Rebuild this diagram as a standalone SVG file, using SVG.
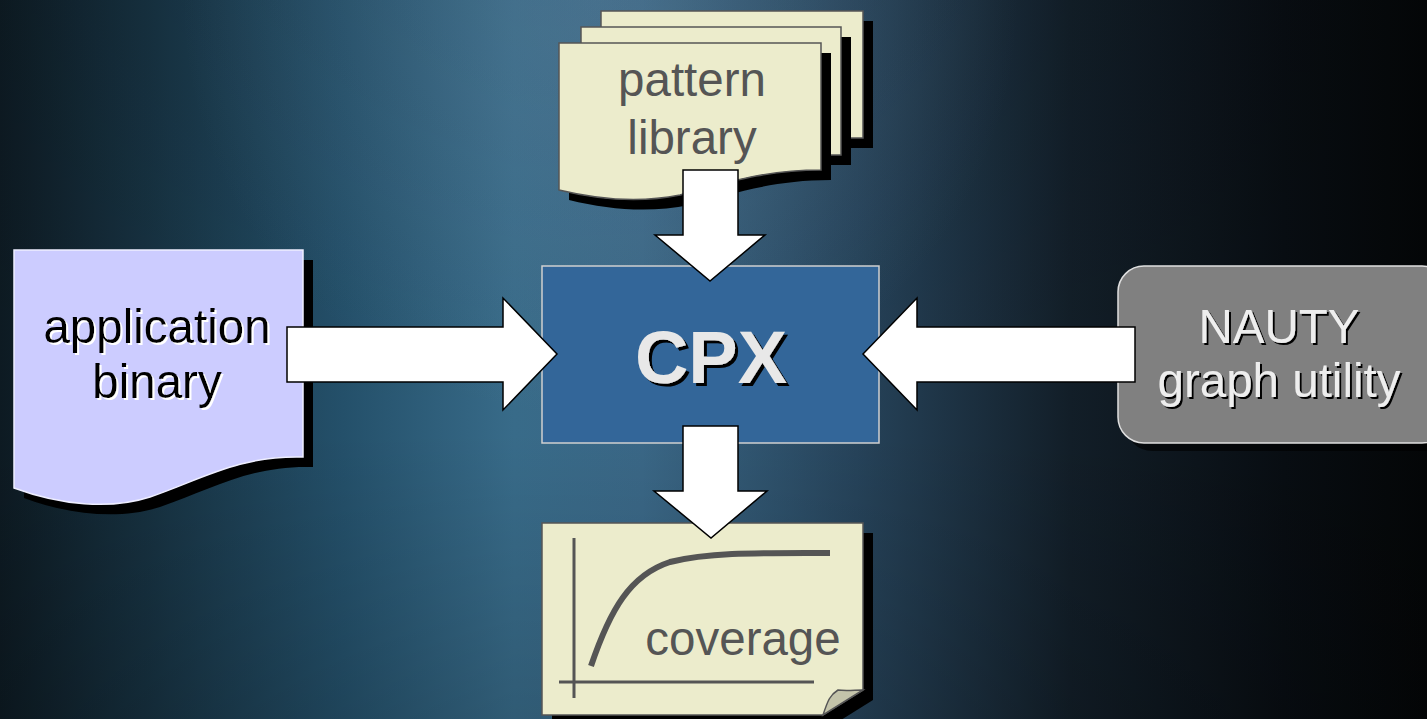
<svg xmlns="http://www.w3.org/2000/svg" width="1427" height="719" viewBox="0 0 1427 719">
<defs>
<linearGradient id="bgH" x1="0" y1="0" x2="1427" y2="0" gradientUnits="userSpaceOnUse">
<stop offset="0" stop-color="#0d1a22"/>
<stop offset="0.1" stop-color="#16303f"/>
<stop offset="0.24" stop-color="#24506a"/>
<stop offset="0.36" stop-color="#386b89"/>
<stop offset="0.45" stop-color="#3a6786"/>
<stop offset="0.6" stop-color="#26435a"/>
<stop offset="0.75" stop-color="#121e28"/>
<stop offset="0.9" stop-color="#080d12"/>
<stop offset="1" stop-color="#040607"/>
</linearGradient>
<radialGradient id="glow" cx="600" cy="0" r="420" gradientUnits="userSpaceOnUse">
<stop offset="0" stop-color="#7fa0bb" stop-opacity="0.25"/>
<stop offset="1" stop-color="#7fa0bb" stop-opacity="0"/>
</radialGradient>
<linearGradient id="bgV" x1="0" y1="0" x2="0" y2="719" gradientUnits="userSpaceOnUse">
<stop offset="0" stop-color="#000" stop-opacity="0.05"/>
<stop offset="0.6" stop-color="#000" stop-opacity="0"/>
<stop offset="1" stop-color="#000" stop-opacity="0.15"/>
</linearGradient>
<filter id="shW" x="-10%" y="-10%" width="120%" height="130%">
<feDropShadow dx="2" dy="2" stdDeviation="0" flood-color="#fff"/>
</filter>
<filter id="shB" x="-10%" y="-10%" width="120%" height="130%">
<feDropShadow dx="2" dy="2" stdDeviation="0" flood-color="#000"/>
</filter>
<filter id="shB3" x="-10%" y="-10%" width="120%" height="130%">
<feDropShadow dx="3" dy="3" stdDeviation="0" flood-color="#000"/>
</filter>
<style>
.paper{fill:#ececcc;stroke:#555;stroke-width:1.5}
.shadow{fill:#000}
.arrow{fill:#fff;stroke:#000;stroke-width:1.5}
.t{font-family:"Liberation Sans",Arial,sans-serif;font-size:47.5px;text-anchor:middle}
.grey{fill:#555}
.axis{stroke:#555;stroke-width:3;fill:none}
</style>
</defs>
<rect width="1427" height="719" fill="url(#bgH)"/>
<rect width="1427" height="719" fill="url(#glow)"/>
<rect width="1427" height="719" fill="url(#bgV)"/>

<g id="pattern-library">
<rect class="shadow" x="611" y="21" width="262" height="127"/>
<rect class="paper" x="601" y="11" width="262" height="127"/>
<rect class="shadow" x="591" y="37" width="260" height="128"/>
<rect class="paper" x="581" y="27" width="260" height="128"/>
<path class="shadow" d="M569,53 H831 V180 C770,180 730,195 690,205 C650,213 610,210 569,200 Z"/>
<path class="paper" d="M559,43 H821 V170 C760,170 720,185 680,195 C640,203 600,200 559,190 Z"/>
<text class="t grey" x="692" y="96">pattern</text>
<text class="t grey" x="692" y="154">library</text>
</g>

<g id="application-binary">
<path class="shadow" d="M24,260 H313 V467 C250,465 210,490 160,507 C120,520 70,515 24,498 Z"/>
<path d="M14,250 H303 V457 C240,455 200,480 150,497 C110,510 60,505 14,488 Z" fill="#ccccff" stroke="#eeeeff" stroke-width="1.5"/>
<g filter="url(#shW)">
<text class="t" x="157" y="343" fill="#000">application</text>
<text class="t" x="157" y="398" fill="#000">binary</text>
</g>
</g>

<g id="nauty">
<rect x="1126" y="274" width="330" height="177" rx="26" fill="#000" opacity="0.6"/>
<rect x="1118" y="266" width="330" height="177" rx="26" fill="#808080" stroke="#e0e0e0" stroke-width="1.5"/>
<g filter="url(#shB)">
<text class="t" x="1279" y="343" fill="#eeeeee">NAUTY</text>
<text class="t" x="1279" y="397" fill="#eeeeee">graph utility</text>
</g>
</g>

<g id="cpx">
<rect x="542" y="266" width="337" height="177" fill="#336699" stroke="#d0d0d0" stroke-width="1.5"/>
<text x="711" y="383" font-family="'Liberation Sans',Arial,sans-serif" font-size="74" font-weight="bold" text-anchor="middle" fill="#e8e8e8" filter="url(#shB3)">CPX</text>
</g>

<g id="coverage">
<path class="shadow" d="M552,533 H873 V700 L833,725 H552 Z"/>
<path class="paper" d="M542,523 H863 V690 L823,715 H542 Z"/>
<path d="M823,715 C828,700 830,695 838,690 C846,691 855,690 863,690 Z" fill="#c4c4aa" stroke="#555" stroke-width="1.5"/>
<line class="axis" x1="574" y1="538" x2="574" y2="698"/>
<line class="axis" x1="559" y1="682" x2="814" y2="682"/>
<path d="M591,666 C610,610 630,575 670,562 C710,552 760,553 830,553" fill="none" stroke="#555" stroke-width="6"/>
<text class="t grey" x="743" y="655">coverage</text>
</g>

<g id="connectors">
<path class="arrow" d="M683,170 H738 V235 H765 L710,281 L655,235 H683 Z"/>
<path class="arrow" d="M683,426 H738 V491 H767 L711,538 L654,491 H683 Z"/>
<path class="arrow" d="M287,327 H503 V298 L557,354 L503,410 V382 H287 Z"/>
<path class="arrow" d="M1135,327 H917 V298 L863,354 L917,410 V382 H1135 Z"/>
</g>
</svg>
